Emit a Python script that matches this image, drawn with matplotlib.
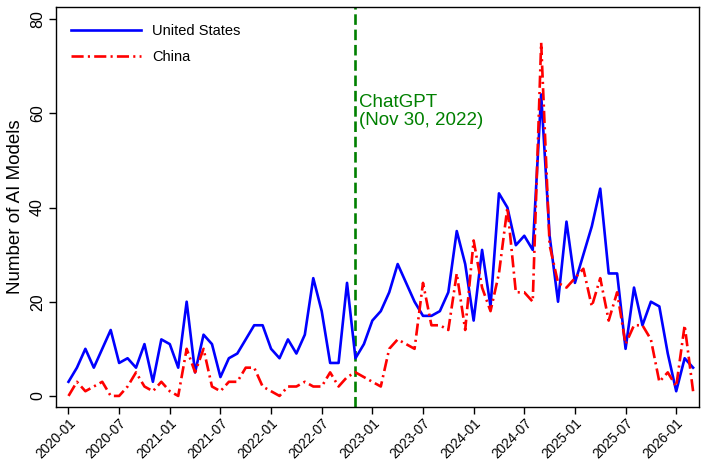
import matplotlib
matplotlib.use("Agg")
import matplotlib.pyplot as plt
import pandas as pd

plt.rcParams["font.family"] = ["Liberation Sans", "DejaVu Sans"]

# Monthly counts of released AI models, Jan 2020 - Mar 2026
months = [p.strftime("%Y-%m") for p in pd.period_range("2020-01", "2026-03", freq="M")]

us_models = [3, 6, 10, 6, 10, 14, 7, 8, 6, 11, 3, 12, 11, 6, 20, 5, 13, 11, 4, 8,
             9, 12, 15, 15, 10, 8, 12, 9, 13, 25, 18, 7, 7, 24, 8, 11, 16, 18, 22, 28,
             24, 20, 17, 17, 18, 22, 35, 28, 16, 31, 19, 43, 40, 32, 34, 31, 64, 34, 20, 37,
             24, 30, 36, 44, 26, 26, 10, 23, 15, 20, 19, 9, 1, 8, 6]

china_models = [0, 3, 1, 2, 3, 0, 0, 2, 5, 2, 1, 3, 1, 0, 10, 5, 10, 2, 1, 3,
                3, 6, 6, 2, 1, 0, 2, 2, 3, 2, 2, 5, 2, 4, 5, 4, 3, 2, 10, 12,
                11, 10, 24, 15, 15, 14, 26, 14, 33, 23, 18, 26, 40, 22, 22, 20, 75, 32, 24, 23,
                25, 27, 19, 25, 16, 22, 11, 15, 15, 12, 3, 5, 2, 15, 1]

tick_labels = ["2020-01", "2020-07", "2021-01", "2021-07", "2022-01", "2022-07",
               "2023-01", "2023-07", "2024-01", "2024-07", "2025-01", "2025-07", "2026-01"]
y_ticks = [0, 20, 40, 60, 80]

event_month = "2022-11"
event_label = "ChatGPT\n(Nov 30, 2022)"

x = list(range(len(months)))

fig = plt.figure(figsize=(7.02, 4.62), dpi=100)
ax_top, ax_bottom = 7.3, 407.0
ax = fig.add_axes([56 / 702, 1 - ax_bottom / 462, (699 - 56) / 702, (ax_bottom - ax_top) / 462])

ax.plot(x, us_models, color="#0000ff", lw=1.9, label="United States", zorder=3)
ax.plot(x, china_models, color="#ff0000", lw=1.9,
        linestyle=(0, (4.6, 1.6, 0.8, 1.6)), label="China", zorder=4)

ev = months.index(event_month)
ax.axvline(ev, color="#008000", lw=1.9, linestyle=(0, (4.0, 1.8)), zorder=2)
ax.text(ev + 0.45, 64.2, event_label, color="#008000", fontsize=13.5,
        va="top", ha="left", linespacing=1.1)

ax.set_xlim(-1.48, 74.7)
ax.set_ylim(-2.35, 82.5)

ax.set_xticks([months.index(t) for t in tick_labels])
ax.set_xticklabels(tick_labels, rotation=45, ha="right", rotation_mode="anchor", fontsize=9.8)
ax.set_yticks(y_ticks)
ax.set_yticklabels([str(v) for v in y_ticks], rotation=90, va="center", fontsize=11.5)
ax.tick_params(axis="both", direction="out", length=5, width=1.0, color="black")
ax.tick_params(axis="x", pad=1.5)
ax.tick_params(axis="y", pad=3)

for s in ax.spines.values():
    s.set_linewidth(1.0)
    s.set_color("black")

ax.set_ylabel("Number of AI Models", fontsize=13.5, labelpad=4)

leg = ax.legend(loc="upper left", bbox_to_anchor=(0.0233, 0.957), frameon=False,
                borderpad=0, borderaxespad=0, handlelength=4.8, handletextpad=0.75,
                labelspacing=0.78, fontsize=10.5)

fig.savefig("out.png", dpi=100, facecolor="white")
